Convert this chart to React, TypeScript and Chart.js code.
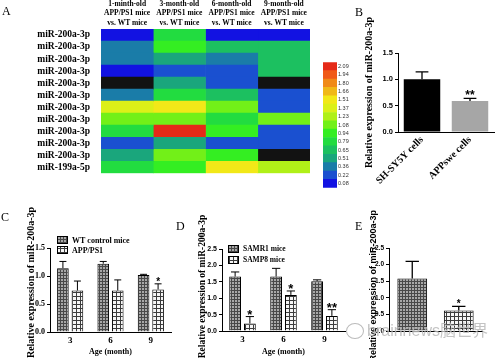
import React, { useEffect, useRef } from "react";
import { Chart, registerables } from "chart.js";
Chart.register(...registerables);

const SERIF = "'Liberation Serif', 'Times New Roman', serif";
const SANS = "'Liberation Sans', Arial, sans-serif";

// ---------- Panel A data ----------
const heatRows = [
  "miR-200a-3p", "miR-200a-3p", "miR-200a-3p", "miR-200a-3p", "miR-200a-3p", "miR-200a-3p",
  "miR-200a-3p", "miR-200a-3p", "miR-200a-3p", "miR-200a-3p", "miR-200a-3p", "miR-199a-5p",
];
const heatCols = [
  ["1-minth-old", "APP/PS1 mice", "vs. WT mice"],
  ["3-month-old", "APP/PS1 mice", "vs. WT mice"],
  ["6-month-old", "APP/PS1 mice", "vs. WT mice"],
  ["9-month-old", "APP/PS1 mice", "vs. WT mice"],
];
const heat1m = [0.08, 0.36, 0.36, 0.08, null, 0.36, 1.37, 1.08, 0.79, 0.22, 0.51, 0.79];
const heat3m = [0.79, 0.94, 0.51, 0.22, 0.51, 0.79, 1.51, 1.08, 2.09, 0.51, 1.08, 0.94];
const heat6m = [0.08, 0.65, 0.36, 0.22, 0.22, 0.65, 1.08, 0.79, 0.94, 0.22, 0.94, 1.51];
const heat9m = [0.08, 0.65, 0.65, 0.65, null, 0.22, 0.22, 1.08, 0.22, 0.22, null, 1.23];
const scaleValues = [2.09, 1.94, 1.8, 1.66, 1.51, 1.37, 1.23, 1.08, 0.94, 0.79, 0.65, 0.51, 0.36, 0.22, 0.08];
const scaleColors = [
  "#e52a18", "#f05a18", "#f08a18", "#f0b818", "#f2e818", "#dcf018", "#b0f018", "#72f018",
  "#34ee22", "#22dc40", "#1cc060", "#1aa67c", "#1a7ca8", "#1a50d0", "#1212e2",
];

// ---------- Panel B data ----------
const bLabels = ["SH-SY5Y cells", "APPswe cells"];
const bValues = [1.0, 0.59];
const bErrors = [0.14, 0.05];
const bStars = ["", "**"];

// ---------- Panel C data ----------
const ageLabels = ["3", "6", "9"];
const cWT = [1.14, 1.22, 1.02];
const cWTErr = [0.12, 0.04, 0.01];
const cAPP = [0.74, 0.74, 0.76];
const cAPPErr = [0.17, 0.19, 0.1];
const cAPPStars = ["", "", "*"];

// ---------- Panel D data ----------
const dSAMR1 = [1.66, 1.66, 1.52];
const dSAMR1Err = [0.14, 0.25, 0.04];
const dSAMP8 = [0.23, 1.1, 0.46];
const dSAMP8Err = [0.21, 0.12, 0.19];
const dSAMP8Stars = ["*", "*", "**"];

// ---------- Panel E data ----------
const eLabels = ["", ""];
const eValues = [1.58, 0.62];
const eErrors = [0.52, 0.12];
const eStars = ["", "*"];

const yTitle = "Relative expression of miR-200a-3p";

function colorFor(v: number | null) {
  if (v == null) return "#121212";
  let best = 0;
  scaleValues.forEach((s, i) => {
    if (Math.abs(s - v) < Math.abs(scaleValues[best] - v)) best = i;
  });
  return scaleColors[best];
}

function patDense(): any {
  const c = document.createElement("canvas");
  c.width = 3; c.height = 3;
  const g = c.getContext("2d")!;
  g.fillStyle = "#a8a8a8"; g.fillRect(0, 0, 3, 3);
  g.fillStyle = "#484848"; g.fillRect(0, 0, 3, 1); g.fillRect(0, 0, 1, 3);
  return g.createPattern(c, "repeat");
}
function patChecker(): any {
  const c = document.createElement("canvas");
  c.width = 4; c.height = 4;
  const g = c.getContext("2d")!;
  g.fillStyle = "#f6f6f6"; g.fillRect(0, 0, 4, 4);
  g.fillStyle = "#3c3c3c"; g.fillRect(0, 0, 4, 1); g.fillRect(0, 0, 1, 4);
  return g.createPattern(c, "repeat");
}

function errorPlugin(capRatio: number, starFont: string, lw: number, starOffset: number) {
  return {
    id: "errbars",
    afterDatasetsDraw(chart: any) {
      const ctx = chart.ctx;
      const ys = chart.scales.y;
      chart.data.datasets.forEach((ds: any, di: number) => {
        const meta = chart.getDatasetMeta(di);
        meta.data.forEach((bar: any, i: number) => {
          const v = ds.data[i];
          if (v == null) return;
          const e = ds.errors ? ds.errors[i] : 0;
          const top = ys.getPixelForValue(v + e);
          const base = ys.getPixelForValue(v);
          ctx.save();
          ctx.strokeStyle = "#000";
          ctx.lineWidth = lw;
          if (e > 0) {
            const hw = (bar.width * capRatio) / 2;
            ctx.beginPath();
            ctx.moveTo(bar.x, base);
            ctx.lineTo(bar.x, top);
            ctx.moveTo(bar.x - hw, top);
            ctx.lineTo(bar.x + hw, top);
            ctx.stroke();
          }
          const s = ds.stars ? ds.stars[i] : "";
          if (s) {
            ctx.fillStyle = "#000";
            ctx.font = starFont;
            ctx.textAlign = "center";
            ctx.textBaseline = "alphabetic";
            ctx.fillText(s, bar.x, top + starOffset);
          }
          ctx.restore();
        });
      });
    },
  };
}

function legendPlugin(dx: number, dy: number, gap: number, font: string) {
  return {
    id: "boxLegend",
    afterDraw(chart: any) {
      const ctx = chart.ctx;
      const a = chart.chartArea;
      chart.data.datasets.forEach((ds: any, i: number) => {
        const x = a.left + dx;
        const y = a.top + dy + i * gap;
        ctx.save();
        ctx.fillStyle = ds.backgroundColor;
        ctx.fillRect(x, y, 10, 7);
        ctx.strokeStyle = "#000";
        ctx.lineWidth = 1;
        ctx.strokeRect(x + 0.5, y + 0.5, 10, 7);
        ctx.fillStyle = "#000";
        ctx.font = font;
        ctx.textBaseline = "middle";
        ctx.textAlign = "left";
        ctx.fillText(ds.label, x + 15, y + 4.5);
        ctx.restore();
      });
    },
  };
}

function yAxis(max: number, width: number, tickFont: any, titleSize: number, titleFamily: string, title: string) {
  return {
    min: 0,
    max,
    ticks: {
      stepSize: 0.5,
      callback: (v: any) => Number(v).toFixed(1),
      font: tickFont,
      color: "#000",
      padding: 2,
    },
    grid: { drawOnChartArea: false, tickLength: 3, color: "#000", lineWidth: 1 },
    border: { color: "#000", width: 1 },
    title: {
      display: true,
      text: title,
      font: { family: titleFamily, size: titleSize, weight: "bold" },
      color: "#000",
      padding: 0,
    },
    afterFit: (s: any) => { s.width = width; },
  };
}

function xAxis(height: number, tickFont: any, title: string, extra: any = {}) {
  return {
    grid: { display: false, drawTicks: false },
    border: { color: "#000", width: 1 },
    ticks: { font: tickFont, color: "#000", padding: 3, autoSkip: false, maxRotation: 0, ...extra },
    title: {
      display: !!title,
      text: title,
      font: { family: SERIF, size: 8, weight: "bold" },
      color: "#000",
      padding: 1,
    },
    afterFit: (s: any) => { s.height = height; },
  };
}

const base = {
  responsive: false,
  animation: false,
  devicePixelRatio: 1,
  events: [],
};

function makeHeat(): any {
  const cols = [heat1m, heat3m, heat6m, heat9m];
  return {
    type: "bar",
    data: {
      labels: heatRows,
      datasets: cols.map((vals) => ({
        data: heatRows.map(() => 1),
        backgroundColor: vals.map(colorFor),
        borderWidth: 0,
        barPercentage: 1,
        categoryPercentage: 1,
      })),
    },
    options: {
      ...base,
      indexAxis: "y",
      layout: { padding: { left: 0, right: 2, top: 0, bottom: 2 } },
      plugins: { legend: { display: false }, tooltip: { enabled: false } },
      scales: {
        x: { type: "linear", stacked: true, min: 0, max: 4, display: false },
        xTop: {
          type: "category",
          labels: heatCols,
          position: "top",
          offset: true,
          grid: { display: false, drawTicks: false },
          border: { display: false },
          ticks: {
            font: { family: SERIF, size: 7.5, weight: "bold", lineHeight: 1.3 },
            color: "#000",
            padding: 1,
            maxRotation: 0,
            autoSkip: false,
          },
          afterFit: (s: any) => { s.height = 29; },
        },
        y: {
          stacked: true,
          grid: { display: false, drawTicks: false },
          border: { display: false },
          ticks: { font: { family: SERIF, size: 9.5, weight: "bold" }, color: "#000", padding: 11, autoSkip: false },
          afterFit: (s: any) => { s.width = 101; },
        },
      },
    },
  };
}

function makeColorbar(): any {
  return {
    type: "bar",
    data: {
      labels: scaleValues.map((v) => v.toFixed(2)),
      datasets: [{
        data: scaleValues.map(() => 1),
        backgroundColor: scaleColors,
        borderWidth: 0,
        barPercentage: 1,
        categoryPercentage: 1,
      }],
    },
    options: {
      ...base,
      indexAxis: "y",
      layout: { padding: { left: 3, right: 6, top: 4, bottom: 4 } },
      plugins: { legend: { display: false }, tooltip: { enabled: false } },
      scales: {
        x: { min: 0, max: 1, display: false },
        y: {
          position: "right",
          grid: { display: false, drawTicks: false },
          border: { display: false },
          ticks: { font: { family: SANS, size: 5.5 }, color: "#333", padding: 1, autoSkip: false },
          afterFit: (s: any) => { s.width = 22; },
        },
      },
    },
  };
}

function makeB(): any {
  return {
    type: "bar",
    data: {
      labels: bLabels,
      datasets: [{
        data: bValues,
        errors: bErrors,
        stars: bStars,
        backgroundColor: ["#000000", "#a6a6a6"],
        borderWidth: 0,
        barPercentage: 0.76,
        categoryPercentage: 1,
      }],
    },
    options: {
      ...base,
      layout: { padding: { left: 33, right: 1, top: 53, bottom: 0 } },
      plugins: { legend: { display: false }, tooltip: { enabled: false } },
      scales: {
        x: xAxis(68, { family: SERIF, size: 10, weight: "bold" }, "", { minRotation: 45, maxRotation: 45, padding: 2 }),
        y: yAxis(1.5, 35, { family: SANS, size: 7.5, weight: "bold" }, 10, SERIF, yTitle),
      },
    },
    plugins: [errorPlugin(0.35, `bold 12px ${SANS}`, 1.3, 1)],
  };
}

function makeC(): any {
  return {
    type: "bar",
    data: {
      labels: ageLabels,
      datasets: [
        { label: "WT control mice", data: cWT, errors: cWTErr, backgroundColor: patDense(), borderColor: "#000", borderWidth: 1, barPercentage: 0.8, categoryPercentage: 0.72 },
        { label: "APP/PS1", data: cAPP, errors: cAPPErr, stars: cAPPStars, backgroundColor: patChecker(), borderColor: "#000", borderWidth: 1, barPercentage: 0.8, categoryPercentage: 0.72 },
      ],
    },
    options: {
      ...base,
      layout: { padding: { left: 25, right: 4, top: 48, bottom: 0 } },
      plugins: { legend: { display: false }, tooltip: { enabled: false } },
      scales: {
        x: xAxis(26, { family: SERIF, size: 9, weight: "bold" }, "Age (month)"),
        y: yAxis(1.5, 25, { family: SERIF, size: 8, weight: "bold" }, 10, SERIF, "\u00a0\u00a0\u00a0\u00a0\u00a0\u00a0" + yTitle),
      },
    },
    plugins: [errorPlugin(0.6, `bold 10px ${SANS}`, 1, 1), legendPlugin(7, -12, 10, `bold 8px ${SERIF}`)],
  };
}

function makeD(): any {
  return {
    type: "bar",
    data: {
      labels: ageLabels,
      datasets: [
        { label: "SAMR1 mice", data: dSAMR1, errors: dSAMR1Err, backgroundColor: patDense(), borderColor: "#000", borderWidth: 1, barPercentage: 0.8, categoryPercentage: 0.72 },
        { label: "SAMP8 mice", data: dSAMP8, errors: dSAMP8Err, stars: dSAMP8Stars, backgroundColor: patChecker(), borderColor: "#000", borderWidth: 1, barPercentage: 0.8, categoryPercentage: 0.72 },
      ],
    },
    options: {
      ...base,
      layout: { padding: { left: 32, right: 5, top: 49, bottom: 0 } },
      plugins: { legend: { display: false }, tooltip: { enabled: false } },
      scales: {
        x: xAxis(27, { family: SERIF, size: 9, weight: "bold" }, "Age (month)"),
        y: yAxis(2.5, 25, { family: SANS, size: 7, weight: "bold" }, 9.5, SERIF, "\u00a0\u00a0\u00a0" + yTitle),
      },
    },
    plugins: [errorPlugin(0.7, `bold 13px ${SANS}`, 1, 2), legendPlugin(6, -4, 11, `bold 7.5px ${SERIF}`)],
  };
}

function makeE(dense: any, checker: any): any {
  return {
    type: "bar",
    data: {
      labels: eLabels,
      datasets: [{
        data: eValues,
        errors: eErrors,
        stars: eStars,
        backgroundColor: [dense, checker],
        borderColor: "#000",
        borderWidth: 1,
        barPercentage: 0.64,
        categoryPercentage: 1,
      }],
    },
    options: {
      ...base,
      layout: { padding: { left: 38, right: 13, top: 48, bottom: 0 } },
      plugins: { legend: { display: false }, tooltip: { enabled: false } },
      scales: {
        x: xAxis(27, { family: SERIF, size: 9, weight: "bold" }, ""),
        y: yAxis(2.5, 21, { family: SANS, size: 6.5, weight: "bold" }, 9, SANS, "\u00a0\u00a0\u00a0" + yTitle),
      },
    },
    plugins: [errorPlugin(0.45, `bold 10px ${SANS}`, 1.3, 1)],
  };
}

function ChartBox(props: { left: number; top: number; width: number; height: number; make: () => any }) {
  const ref = useRef<HTMLCanvasElement>(null);
  useEffect(() => {
    const chart = new Chart(ref.current as HTMLCanvasElement, props.make());
    return () => chart.destroy();
  }, []);
  return (
    <canvas
      ref={ref}
      width={props.width}
      height={props.height}
      style={{ position: "absolute", left: props.left, top: props.top, width: props.width, height: props.height }}
    />
  );
}

const letterStyle: any = {
  position: "absolute",
  fontFamily: SERIF,
  fontSize: 12,
  lineHeight: "12px",
  color: "#000",
};

export default function App() {
  return (
    <div style={{ position: "fixed", left: 0, top: 0, width: 495, height: 358, background: "#fff", overflow: "hidden" }}>
      <ChartBox left={0} top={0} width={312} height={190} make={makeHeat} />
      <ChartBox left={320} top={58} width={45} height={134} make={makeColorbar} />
      <ChartBox left={330} top={0} width={165} height={200} make={makeB} />
      <ChartBox left={0} top={200} width={175} height={158} make={makeC} />
      <ChartBox left={165} top={200} width={185} height={158} make={makeD} />
      <ChartBox left={330} top={200} width={165} height={158} make={() => makeE(patDense(), patChecker())} />
      <div style={{ ...letterStyle, left: 2, top: 5 }}>A</div>
      <div style={{ ...letterStyle, left: 355, top: 6 }}>B</div>
      <div style={{ ...letterStyle, left: 1, top: 211 }}>C</div>
      <div style={{ ...letterStyle, left: 176, top: 220 }}>D</div>
      <div style={{ ...letterStyle, left: 355, top: 220 }}>E</div>
      <div
        style={{
          position: "absolute",
          left: 346,
          top: 323,
          width: 16,
          height: 14,
          borderRadius: "50%",
          border: "1.5px solid rgba(170,170,170,0.8)",
        }}
      />
      <div
        style={{
          position: "absolute",
          left: 367,
          top: 319,
          fontFamily: SANS,
          fontSize: 16,
          lineHeight: "20px",
          color: "rgba(185,185,185,0.85)",
          whiteSpace: "nowrap",
        }}
      >
        brainnews<span style={{ fontFamily: "'Noto Sans CJK SC'" }}>脑世界</span>
      </div>
    </div>
  );
}
